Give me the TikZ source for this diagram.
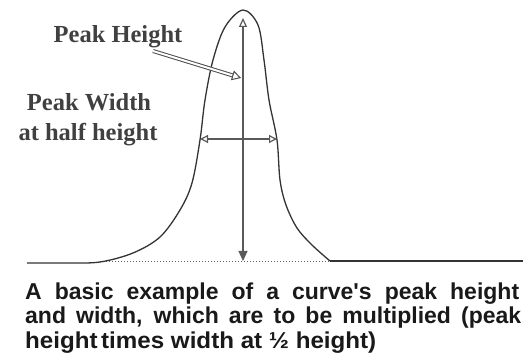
\documentclass[tikz,border=0pt]{standalone}
\usepackage{fontspec}
\usetikzlibrary{arrows.meta,positioning}
\newfontfamily\capfont{Liberation Sans}
\newfontfamily\labfont{Liberation Serif}
\definecolor{CurveClr}{rgb}{0.2,0.2,0.2}
\definecolor{LabelClr}{rgb}{0.25,0.25,0.25}

\tikzset{
  lab/.style={font=\labfont\bfseries\fontsize{24.5}{27}\selectfont,text=LabelClr,inner sep=0pt},
  capline/.style={font=\capfont\bfseries\fontsize{23}{25}\selectfont,text=black!90,inner sep=0pt,anchor=base west},
  curve/.style={line width=1.3pt,color=CurveClr},
  measure/.style={line width=1.2pt,color=black!65},
}

\begin{document}
\begin{tikzpicture}[x=1pt,y=1pt]
\useasboundingbox (0,0) rectangle (523,362);

% points of the peak
\coordinate (top) at (243,344);
\coordinate (bot) at (243,101);
\coordinate (hl) at (200,223);
\coordinate (hr) at (277,223);
\coordinate (phs) at (153,311);
\coordinate (pht) at (241,284);

% base line
\draw[black!60,line width=1pt,dotted] (100,100) -- (330,100);
\draw[curve] (330,101) -- (523,101);

% the curve
\draw[curve] plot[smooth,tension=0.55] coordinates {
  (27,99) (67,99) (100,100) (133,109) (160,125) (180,152) (192,179)
  (200,222) (205,262) (213,302) (225,335) (243,352) (258,337)
  (264,302) (269,262) (277,222) (280,182) (286,157) (297,134)
  (312,117) (330,101)};

% measures
\draw[measure,{Triangle[open,length=9pt,width=8pt]}-{Triangle[length=10pt,width=9pt]}] (top) -- (bot);
\draw[measure,{Triangle[open,length=8pt,width=8pt]}-{Triangle[open,length=8pt,width=8pt]}] (hl) -- (hr);

% labels
\node[lab] (ph) at (118,325) {Peak Height};
\node[lab] (pw) at (89,260) {Peak Width};
\node[lab] (hh) at (88,227) {at half height};
\draw[black!70,line width=1pt,double=white,double distance=2pt,-{Triangle[open,length=9pt,width=10pt]}] (phs) -- (pht);

% caption
\node[capline] (c1) at (25,62) {\makebox[494pt][s]{A basic example of a curve's peak height}};
\node[capline] (c2) at (25,38) {\makebox[496pt][s]{and width, which are to be multiplied (peak}};
\node[capline] (c3) at (25,13) {\scalebox{1.05}[1]{height\hspace{-3pt} times width at ½ height)}};
\end{tikzpicture}
\end{document}
